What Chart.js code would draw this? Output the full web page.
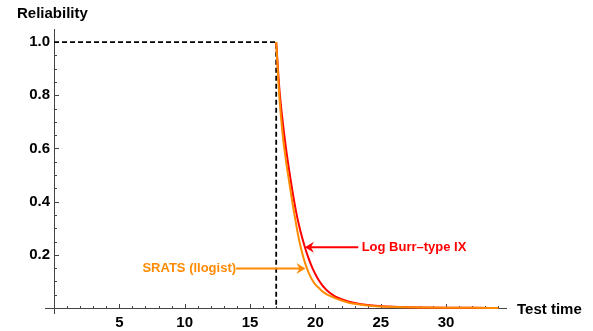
<!DOCTYPE html>
<html>
<head>
<meta charset="utf-8">
<title>Reliability</title>
<script src="https://cdn.jsdelivr.net/npm/chart.js@4.4.1/dist/chart.umd.min.js"></script>
<style>
  html, body { margin: 0; padding: 0; background: #fff; }
  #wrap { width: 593px; height: 331px; position: relative; }
</style>
</head>
<body>
<div id="wrap"><canvas id="chart"></canvas></div>
<script>
"use strict";

// values
const testTime = [17, 17.25, 17.5, 17.75, 18, 18.25, 18.5, 18.75, 19, 19.25, 19.5, 19.75, 20, 20.25, 20.5, 20.75, 21, 21.5, 22, 22.5, 23, 24, 25, 26, 27, 28, 30, 32, 34];
const logBurr = [1, 0.82, 0.7, 0.6, 0.515, 0.437, 0.368, 0.31, 0.262, 0.22, 0.184, 0.153, 0.127, 0.105, 0.087, 0.073, 0.061, 0.044, 0.033, 0.025, 0.019, 0.011, 0.007, 0.0045, 0.003, 0.002, 0.001, 0.0005, 0.0003];
const srats = [1, 0.79, 0.65, 0.553, 0.472, 0.393, 0.322, 0.256, 0.205, 0.163, 0.131, 0.106, 0.088, 0.076, 0.064, 0.055, 0.048, 0.037, 0.028, 0.021, 0.016, 0.009, 0.0055, 0.0035, 0.0025, 0.0018, 0.001, 0.0005, 0.0002];
const guideX = [0, 17, 17];
const guideY = [1, 1, 0];
const xTicks = [5, 10, 15, 20, 25, 30];
const yTicks = [0.2, 0.4, 0.6, 0.8, 1.0];

const FONT = '"Liberation Sans", Arial, sans-serif';
const RED = "#ff0000";
const ORANGE = "#ff8a00";

const pts = (xs, ys) => xs.map((x, i) => ({ x, y: ys[i] }));

function arrow(ctx, x1, y1, x2, y2, color) {
  const dir = Math.sign(x2 - x1);
  ctx.strokeStyle = color;
  ctx.fillStyle = color;
  ctx.lineWidth = 2;
  ctx.beginPath();
  ctx.moveTo(x1, y1);
  ctx.lineTo(x2 - dir * 5, y2);
  ctx.stroke();
  ctx.beginPath();
  ctx.moveTo(x2, y2);
  ctx.lineTo(x2 - dir * 9, y2 - 5.5);
  ctx.lineTo(x2 - dir * 6, y2);
  ctx.lineTo(x2 - dir * 9, y2 + 5.5);
  ctx.closePath();
  ctx.fill();
}

const mmaAxes = {
  id: "mmaAxes",
  beforeDatasetsDraw(chart) {
    const { ctx, chartArea: a, scales: { x, y } } = chart;
    const x0 = Math.round(x.getPixelForValue(0)) + 0.5;
    const y0 = Math.round(y.getPixelForValue(0)) + 0.5;
    ctx.save();
    ctx.strokeStyle = "#444";
    ctx.lineWidth = 1;
    ctx.beginPath();
    ctx.moveTo(x.getPixelForValue(-0.69), y0);
    ctx.lineTo(a.right, y0);
    ctx.moveTo(x0, a.top);
    ctx.lineTo(x0, a.bottom);
    for (let k = 1; k <= 34; k++) {
      const px = Math.round(x.getPixelForValue(k)) + 0.5;
      const len = k % 5 === 0 ? 4.5 : 2.5;
      ctx.moveTo(px, y0);
      ctx.lineTo(px, y0 - len);
    }
    for (let k = 1; k <= 20; k++) {
      const py = Math.round(y.getPixelForValue(k * 0.05)) + 0.5;
      const len = k % 4 === 0 ? 4.5 : 2.5;
      ctx.moveTo(x0, py);
      ctx.lineTo(x0 + len, py);
    }
    ctx.stroke();
    ctx.restore();
  },
  afterDraw(chart) {
    const { ctx, scales: { x, y } } = chart;
    ctx.save();
    ctx.fillStyle = "#000";
    ctx.font = `bold 15px ${FONT}`;
    ctx.textBaseline = "alphabetic";
    ctx.textAlign = "left";
    ctx.fillText("Reliability", 17, 17.5);
    ctx.fillText("Test time", 517, 314);

    ctx.font = `bold 13px ${FONT}`;
    ctx.textBaseline = "middle";
    // Log Burr-type IX note
    const ry = y.getPixelForValue(0.2285);
    arrow(ctx, x.getPixelForValue(23.28), ry, x.getPixelForValue(19.2), ry, RED);
    ctx.fillStyle = RED;
    ctx.fillText("Log Burr\u2013type IX", x.getPixelForValue(23.54), ry);
    // SRATS note
    const oy = y.getPixelForValue(0.1487);
    arrow(ctx, x.getPixelForValue(13.93), oy, x.getPixelForValue(19.24), oy, ORANGE);
    ctx.fillStyle = ORANGE;
    ctx.textAlign = "right";
    ctx.fillText("SRATS (llogist)", x.getPixelForValue(13.93), oy);
    ctx.restore();
  },
};

new Chart(document.getElementById("chart"), {
  type: "scatter",
  data: {
    datasets: [
      {
        label: "SRATS (llogist)",
        data: pts(testTime, srats),
        showLine: true,
        borderColor: ORANGE,
        borderWidth: 2,
        pointRadius: 0,
        cubicInterpolationMode: "monotone",
      },
      {
        label: "Log Burr-type IX",
        data: pts(testTime, logBurr),
        showLine: true,
        borderColor: RED,
        borderWidth: 2,
        pointRadius: 0,
        cubicInterpolationMode: "monotone",
      },
      {
        label: "guide",
        data: pts(guideX, guideY),
        showLine: true,
        borderColor: "#000",
        borderWidth: 1.8,
        borderDash: [5, 3],
        pointRadius: 0,
      },
    ],
  },
  options: {
    responsive: true,
    maintainAspectRatio: false,
    animation: false,
    layout: { padding: { left: 0, right: 86, top: 29, bottom: 0 } },
    plugins: { legend: { display: false }, tooltip: { enabled: false } },
    scales: {
      x: {
        type: "linear",
        position: "bottom",
        min: -0.306,
        max: 34.66,
        afterBuildTicks: (s) => { s.ticks = xTicks.map((v) => ({ value: v })); },
        afterFit: (s) => { s.height = 17; },
        grid: { display: false, drawTicks: false },
        border: { display: false },
        ticks: {
          padding: 0,
          autoSkip: false,
          maxRotation: 0,
          color: "#000",
          font: { family: FONT, size: 15, weight: "bold" },
          callback: (v) => String(v),
        },
      },
      y: {
        type: "linear",
        min: -0.0226,
        max: 1.049,
        afterBuildTicks: (s) => { s.ticks = yTicks.map((v) => ({ value: v })); },
        afterFit: (s) => { s.width = 50; },
        grid: { display: false, drawTicks: false },
        border: { display: false },
        ticks: {
          padding: 0,
          color: "#000",
          font: { family: FONT, size: 15, weight: "bold" },
          callback: (v) => v.toFixed(1),
        },
      },
    },
  },
  plugins: [mmaAxes],
});
</script>
</body>
</html>
